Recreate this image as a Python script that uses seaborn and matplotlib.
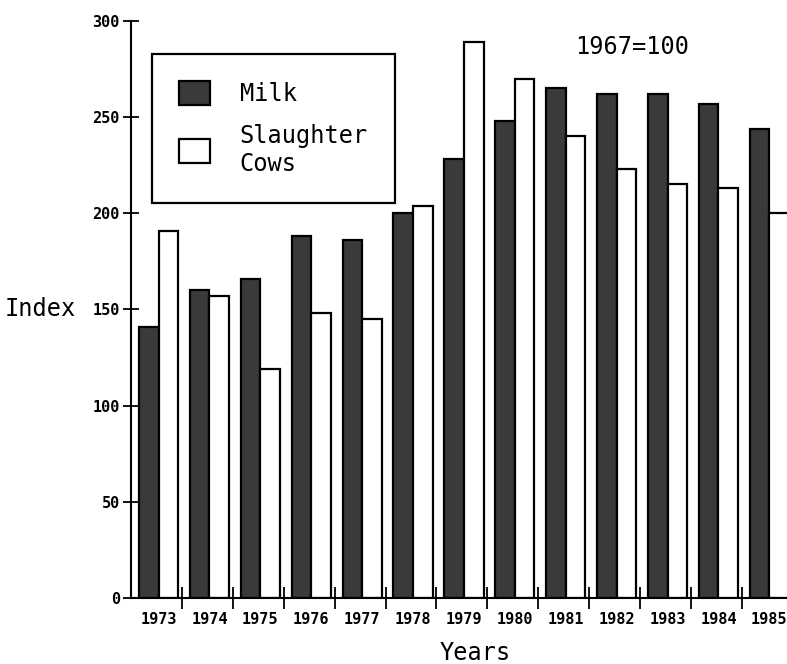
import numpy as np
import pandas as pd
import matplotlib
matplotlib.use("Agg")
import matplotlib.pyplot as plt
import seaborn as sns

years = ["1973", "1974", "1975", "1976", "1977", "1978", "1979",
         "1980", "1981", "1982", "1983", "1984", "1985"]
milk = [141, 160, 166, 188, 186, 200, 228, 248, 265, 262, 262, 257, 244]
slaughter = [191, 157, 119, 148, 145, 204, 289, 270, 240, 223, 215, 213, 200]

df = pd.DataFrame({
    "year": years * 2,
    "index": milk + slaughter,
    "series": ["Milk"] * len(years) + ["Slaughter\nCows"] * len(years),
})

sns.set_style("white")
plt.rcParams["font.family"] = ["DejaVu Sans Mono"]
plt.rcParams["text.color"] = "black"
plt.rcParams["axes.labelcolor"] = "black"
plt.rcParams["xtick.color"] = "black"
plt.rcParams["ytick.color"] = "black"

fig = plt.figure(figsize=(7.87, 6.64), dpi=100)
ax = fig.add_axes([0.1665, 0.0994, 0.8408, 0.869])

sns.barplot(data=df, x="year", y="index", hue="series",
            palette={"Milk": "#3a3a3a", "Slaughter\nCows": "white"},
            edgecolor="black", linewidth=1.6, width=0.77, gap=0,
            dodge=True, ax=ax, legend=True)

ax.set_ylim(0, 300)
ax.set_xlim(-0.54, 12.46)
ax.set_yticks([0, 50, 100, 150, 200, 250, 300])
ax.tick_params(axis="y", direction="inout", length=12, width=1.3,
               labelsize=11, pad=2, left=True)
ax.tick_params(axis="x", which="major", length=0, labelsize=11, pad=10)
ax.set_xticks(np.arange(13) + 0.46, minor=True)
ax.tick_params(axis="x", which="minor", direction="inout", length=16,
               width=1.3, bottom=True)
for lbl in ax.get_xticklabels() + ax.get_yticklabels():
    lbl.set_fontweight("bold")

for s in ["top", "right"]:
    ax.spines[s].set_visible(False)
for s in ["left", "bottom"]:
    ax.spines[s].set_color("black")
    ax.spines[s].set_linewidth(1.5)

ax.set_ylabel("Index", fontsize=17, rotation=0, labelpad=8, va="center")
ax.yaxis.set_label_coords(-0.137, 0.5)
ax.set_xlabel("Years", fontsize=17, labelpad=4)
ax.xaxis.set_label_coords(0.52, -0.075)

ax.text(0.757, 0.955, "1967=100", transform=ax.transAxes,
        fontsize=17, ha="center", va="center")

handles, labels = ax.get_legend_handles_labels()
leg = ax.legend(handles, labels, loc="upper left",
                bbox_to_anchor=(0.032, 0.943), borderaxespad=0,
                fontsize=17, frameon=True, fancybox=False,
                handlelength=1.3, handleheight=1.2, handletextpad=1.25,
                borderpad=1.15, labelspacing=0.75)
frame = leg.get_frame()
frame.set_linewidth(1.6)
frame.set_edgecolor("black")
frame.set_alpha(1)
frame.set_boxstyle("square", pad=0)

fig.savefig("out.png", dpi=100)
